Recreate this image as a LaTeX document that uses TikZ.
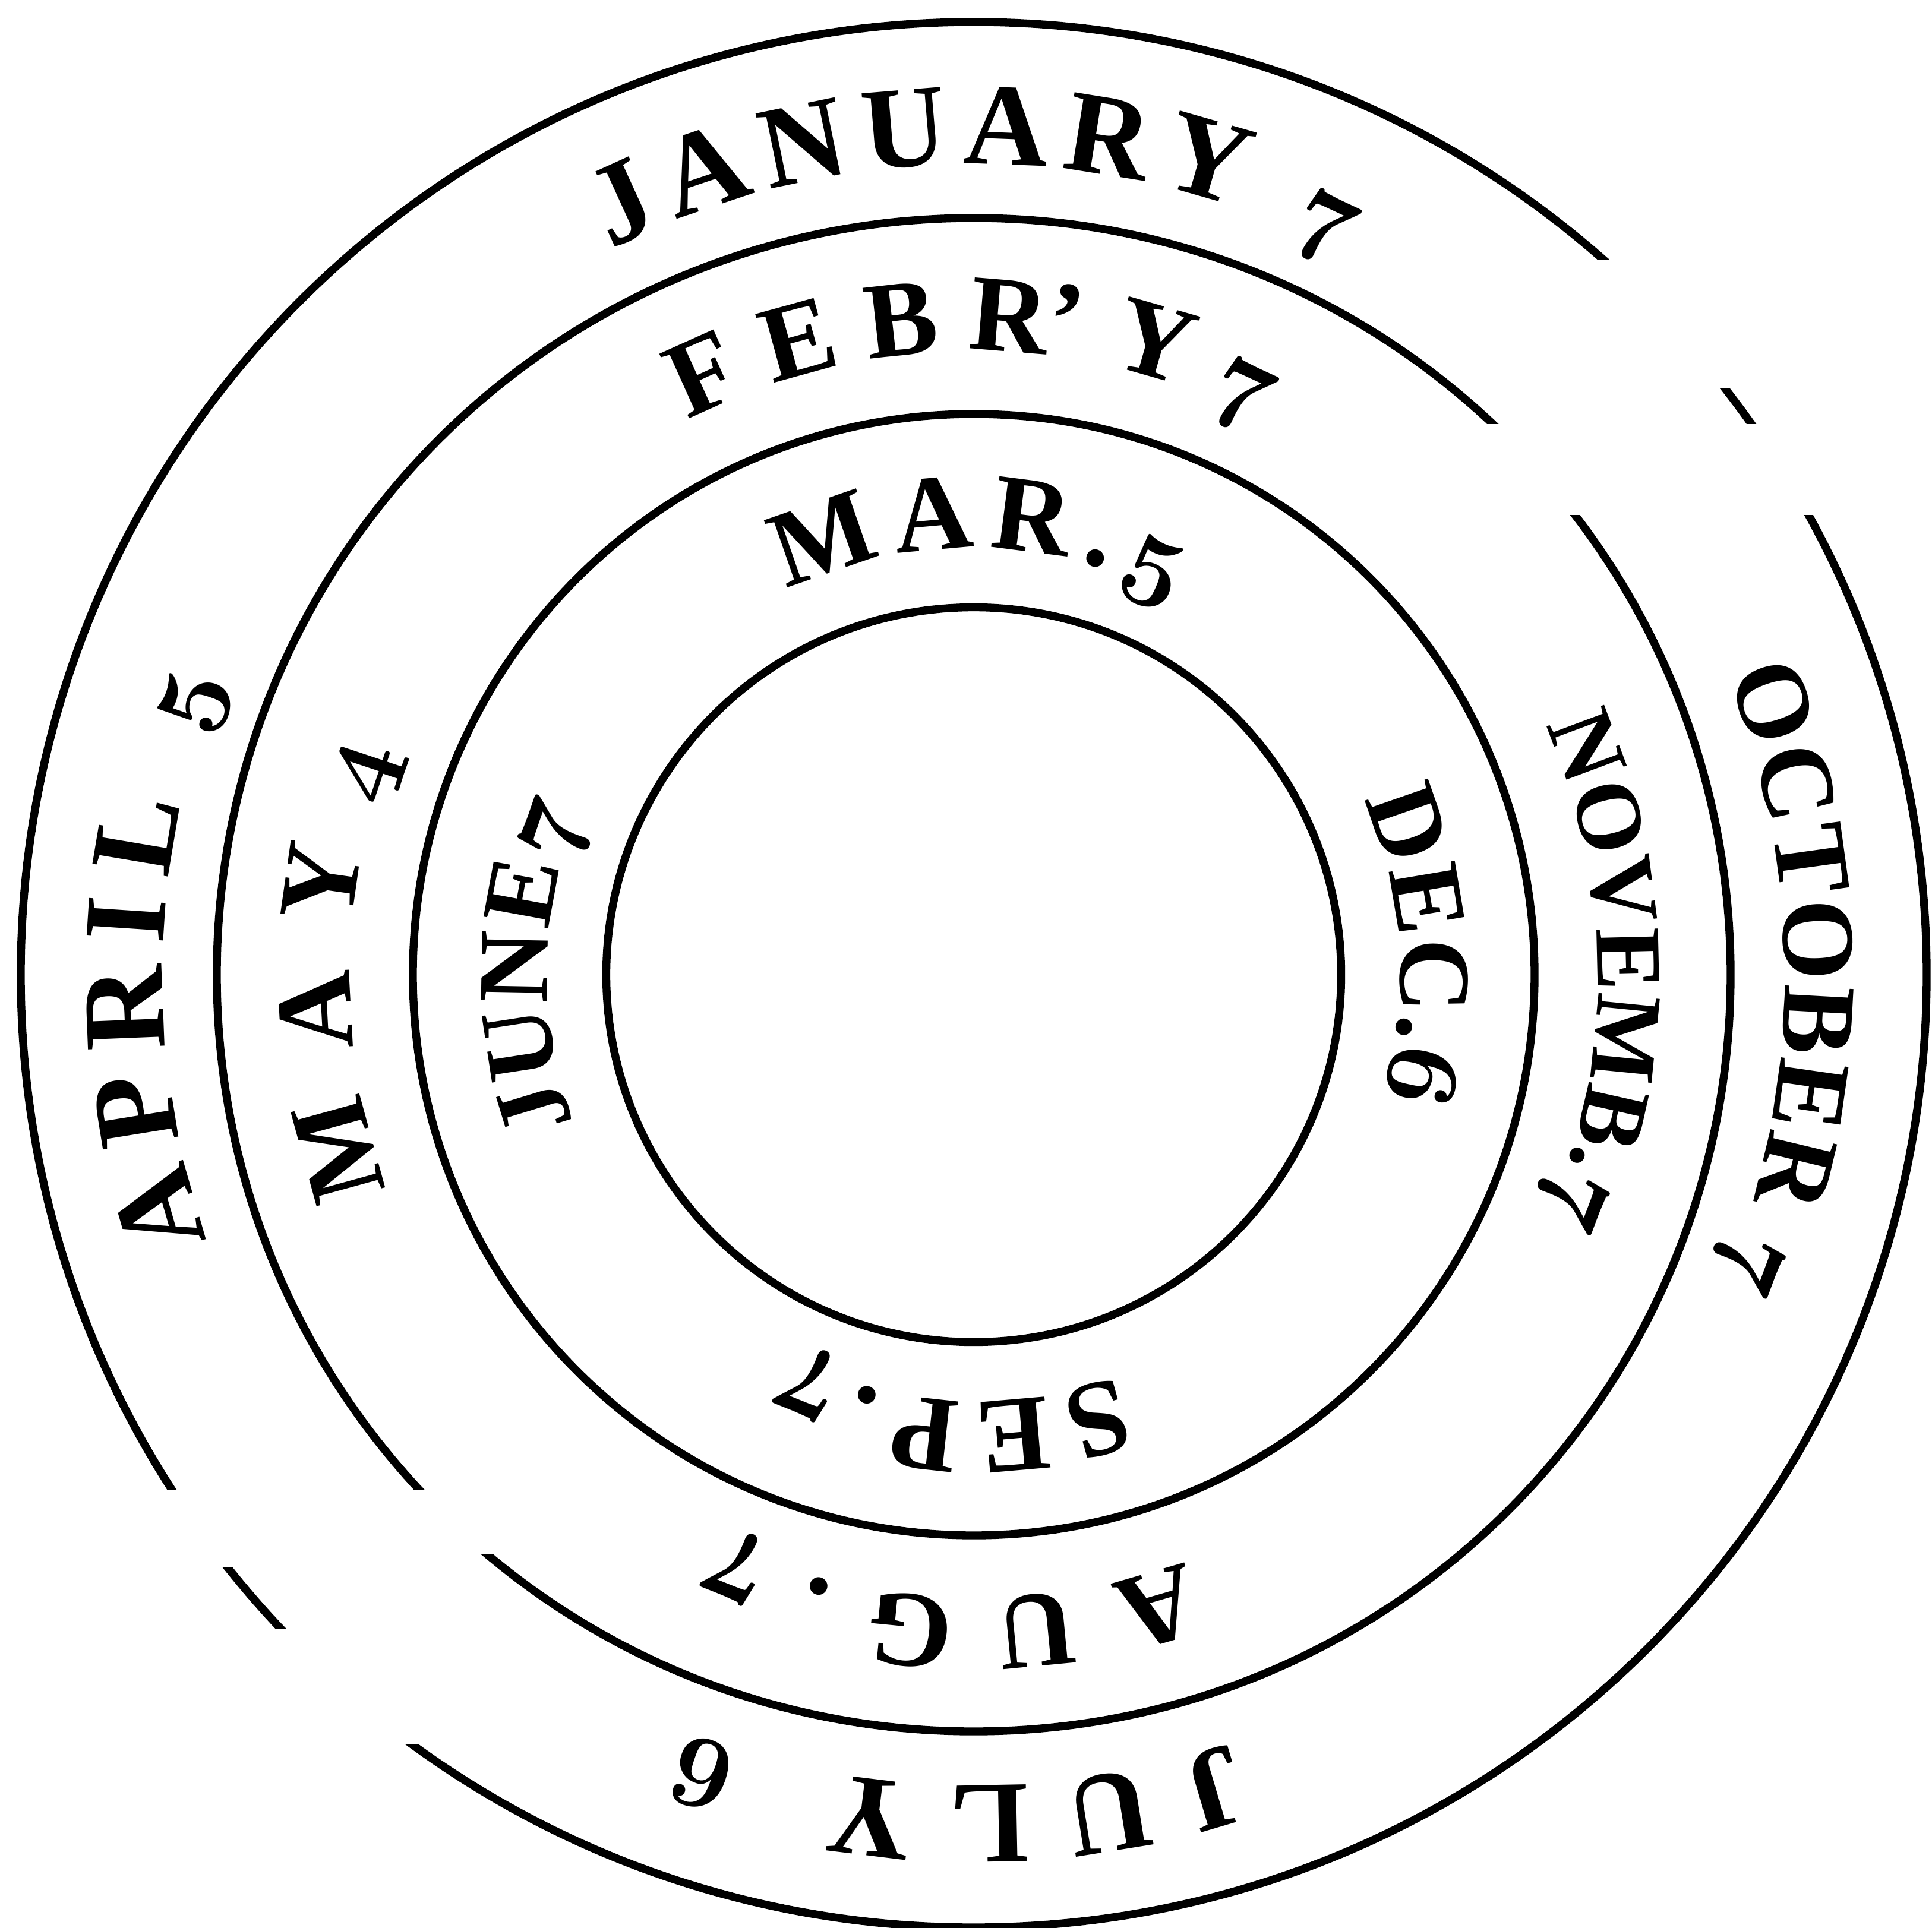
\documentclass[tikz,border=0pt]{standalone}
\usepackage{fontspec}
\setmainfont{Liberation Serif}
\usetikzlibrary{decorations.text}

\newcommand\monthfont[1]{\fontsize{#1}{#1}\selectfont\bfseries}
\newcommand\oldfig[1]{\fontsize{#1}{#1}\usefont{OML}{cmm}{b}{it}}

\begin{document}
\begin{tikzpicture}[
  ring/.style={line width=1.9pt},
  gap/.style={fill=white},
  along/.style={decorate,decoration={text along path,text align={fit to path},text={#1}}}
]
  \useasboundingbox (-8.195,-8.02) rectangle (8.065,8.205);
  % circles
  \foreach \r in {8.02,6.37,4.72,3.0925}
    \draw[ring] (0,0) circle (\r);
  % missing pieces of the rings
  \fill[gap] (4.055,3.87) rectangle (8.3,4.635);
  \fill[gap] (4.805,4.94) rectangle (8.3,6.015);
  \fill[gap] (-8.45,-4.875) rectangle (-3.195,-4.335);
  \fill[gap] (-8.45,-4.985) rectangle (-5.395,-4.875);
  \fill[gap] (-8.45,-6.48) rectangle (-4.195,-5.505);
  % outer ring
  \path[along={|\monthfont{28}|JANUARY |\oldfig{28}|7}]
    (116.6:6.825) arc[start angle=116.6,end angle=62.8,radius=6.825];
  \path[along={|\monthfont{25}|OCTOBER |\oldfig{26}|7}]
    (21.7:6.825) arc[start angle=21.7,end angle=-22.5,radius=6.825];
  \path[along={|\monthfont{28}|JULY |\oldfig{28}|6}]
    (-71.4:6.825) arc[start angle=-71.4,end angle=-110.9,radius=6.825];
  \path[along={|\monthfont{28}|APRIL |\oldfig{28}|5}]
    (199.1:6.825) arc[start angle=199.1,end angle=158.6,radius=6.825];
  % middle ring
  \path[along={|\monthfont{26}|FEB{\monthfont{26}R'}Y|\oldfig{26}|7}]
    (117.3:5.25) arc[start angle=117.3,end angle=62.5,radius=5.25];
  \path[along={|\monthfont{22.5}|NOVEMB.|\oldfig{23}|7}]
    (23.6:5.25) arc[start angle=23.6,end angle=-23.3,radius=5.25];
  \path[along={|\monthfont{26}|AUG.|\oldfig{26}|7}]
    (-70.2:5.25) arc[start angle=-70.2,end angle=-114.5,radius=5.25];
  \path[along={|\monthfont{26}|MAY|\oldfig{26}|4}]
    (200.1:5.25) arc[start angle=200.1,end angle=158.8,radius=5.25];
  % inner ring
  \path[along={|\monthfont{26}|MAR.|\oldfig{26}|5}]
    (116:3.59) arc[start angle=116,end angle=62,radius=3.59];
  \path[along={|\monthfont{24.5}|DEC.|\oldfig{25}|6}]
    (24.2:3.59) arc[start angle=24.2,end angle=-16.8,radius=3.59];
  \path[along={|\monthfont{26}|SEP.|\oldfig{26}|7}]
    (-70.3:3.59) arc[start angle=-70.3,end angle=-115.9,radius=3.59];
  \path[along={|\monthfont{24}|JUNE|\oldfig{24}|7}]
    (200.4:3.59) arc[start angle=200.4,end angle=157,radius=3.59];
\end{tikzpicture}
\end{document}
